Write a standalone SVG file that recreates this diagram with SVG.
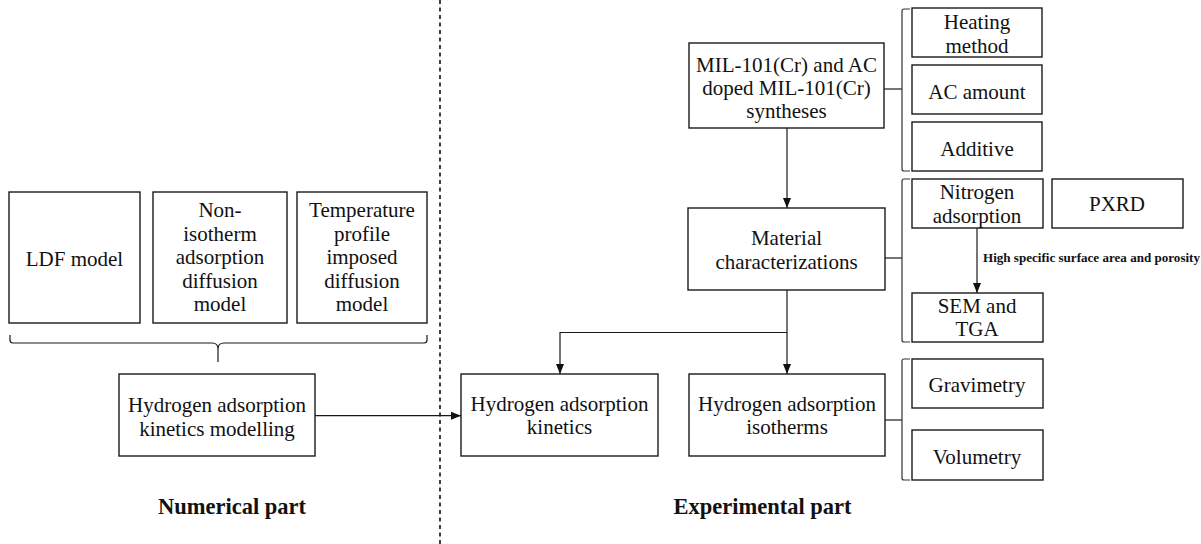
<svg xmlns="http://www.w3.org/2000/svg" width="1201" height="544" viewBox="0 0 1201 544">
<style>
.box{fill:#fff;stroke:#1a1a1a;stroke-width:1.4}
.ln{fill:none;stroke:#1a1a1a;stroke-width:1.2}
.br{fill:none;stroke:#333;stroke-width:1.2}
.t{font-family:"Liberation Serif",serif;font-size:21px;text-anchor:middle;fill:#111}
.h{font-family:"Liberation Serif",serif;font-size:22.5px;font-weight:bold;text-anchor:middle;fill:#111}
.s{font-family:"Liberation Serif",serif;font-size:13px;font-weight:bold;fill:#111}
</style>
<defs>
<marker id="arr" markerUnits="userSpaceOnUse" markerWidth="10" markerHeight="10" viewBox="0 0 10 10" refX="10" refY="5" orient="auto">
<path d="M0,1 L10,5 L0,9 Z" fill="#111"/>
</marker>
</defs>
<rect width="1201" height="544" fill="#fff"/>

<g id="divider">
<line x1="440" y1="0" x2="440" y2="544" stroke="#111" stroke-width="1.6" stroke-dasharray="4 3.5"/>
</g>

<g id="connectors">
<line class="ln" x1="787" y1="128" x2="787" y2="208" marker-end="url(#arr)"/>
<line class="ln" x1="787" y1="290" x2="787" y2="374" marker-end="url(#arr)"/>
<path class="ln" d="M787,332.5 H560 V374" stroke-width="1.6" marker-end="url(#arr)"/>
<line class="ln" x1="315" y1="415.7" x2="461" y2="415.7" marker-end="url(#arr)"/>
<line class="ln" x1="977" y1="228" x2="977" y2="293" marker-end="url(#arr)"/>
<line class="ln" x1="884" y1="89" x2="902" y2="89" stroke-width="1.6"/>
<line class="ln" x1="885" y1="258" x2="902" y2="258" stroke-width="1.6"/>
<line class="ln" x1="885" y1="420" x2="902" y2="420" stroke-width="1.6"/>
<path class="br" d="M910,9 H904 Q902,9 902,11 V169 Q902,171 904,171 H910"/>
<path class="br" d="M910,179 H904 Q902,179 902,181 V340 Q902,342 904,342 H910"/>
<path class="br" d="M910,359 H904 Q902,359 902,361 V478 Q902,480 904,480 H910"/>
<path class="ln" d="M10,335 V340 Q10,343 13,343 H212 Q218,343 218,349 Q218,343 224,343 H424 Q427,343 427,340 V335 M218,349 V362" stroke-width="1.6"/>
</g>

<g id="ldf">
<rect class="box" x="9" y="192" width="131" height="131"/>
<text class="t" x="74.5" y="266">LDF model</text>
</g>
<g id="nonisotherm">
<rect class="box" x="153" y="192" width="134" height="131"/>
<text class="t" x="220" y="217">Non-</text>
<text class="t" x="220" y="241">isotherm</text>
<text class="t" x="220" y="264">adsorption</text>
<text class="t" x="220" y="288">diffusion</text>
<text class="t" x="220" y="311">model</text>
</g>
<g id="temperature">
<rect class="box" x="297" y="192" width="130" height="131"/>
<text class="t" x="362" y="217">Temperature</text>
<text class="t" x="362" y="241">profile</text>
<text class="t" x="362" y="264">imposed</text>
<text class="t" x="362" y="288">diffusion</text>
<text class="t" x="362" y="311">model</text>
</g>
<g id="modelling">
<rect class="box" x="119" y="374" width="196" height="82"/>
<text class="t" x="217" y="412">Hydrogen adsorption</text>
<text class="t" x="217" y="435.5">kinetics modelling</text>
</g>

<g id="synthesis">
<rect class="box" x="689" y="43" width="195" height="85"/>
<text class="t" x="786.5" y="71.5">MIL-101(Cr) and AC</text>
<text class="t" x="786.5" y="95">doped MIL-101(Cr)</text>
<text class="t" x="786.5" y="117.5">syntheses</text>
</g>
<g id="heating">
<rect class="box" x="912" y="8" width="130" height="49"/>
<text class="t" x="977" y="29">Heating</text>
<text class="t" x="977" y="52.5">method</text>
</g>
<g id="acamount">
<rect class="box" x="912" y="65" width="130" height="49"/>
<text class="t" x="977" y="98.5">AC amount</text>
</g>
<g id="additive">
<rect class="box" x="912" y="122" width="130" height="49"/>
<text class="t" x="977" y="156">Additive</text>
</g>
<g id="material">
<rect class="box" x="688" y="208" width="197" height="82"/>
<text class="t" x="786.5" y="244.5">Material</text>
<text class="t" x="786.5" y="268.5">characterizations</text>
</g>
<g id="nitrogen">
<rect class="box" x="912" y="179" width="131" height="49"/>
<text class="t" x="977" y="198.5">Nitrogen</text>
<text class="t" x="977" y="222.5">adsorption</text>
</g>
<g id="pxrd">
<rect class="box" x="1052" y="179" width="131" height="49"/>
<text class="t" x="1117" y="211">PXRD</text>
</g>
<g id="sem">
<rect class="box" x="912" y="293" width="131" height="49"/>
<text class="t" x="977" y="312.5">SEM and</text>
<text class="t" x="977" y="336">TGA</text>
</g>
<text class="s" x="983" y="261.5" textLength="217" lengthAdjust="spacingAndGlyphs">High specific surface area and porosity</text>
<g id="kinetics">
<rect class="box" x="461" y="374" width="197" height="82"/>
<text class="t" x="559.5" y="410.5">Hydrogen adsorption</text>
<text class="t" x="559.5" y="434">kinetics</text>
</g>
<g id="isotherms">
<rect class="box" x="689" y="374" width="196" height="82"/>
<text class="t" x="787" y="410.5">Hydrogen adsorption</text>
<text class="t" x="787" y="434">isotherms</text>
</g>
<g id="gravimetry">
<rect class="box" x="912" y="359" width="131" height="49"/>
<text class="t" x="977" y="391.5">Gravimetry</text>
</g>
<g id="volumetry">
<rect class="box" x="912" y="430" width="131" height="50"/>
<text class="t" x="977" y="463.5">Volumetry</text>
</g>

<text class="h" x="232" y="514">Numerical part</text>
<text class="h" x="762.5" y="514">Experimental part</text>
</svg>
